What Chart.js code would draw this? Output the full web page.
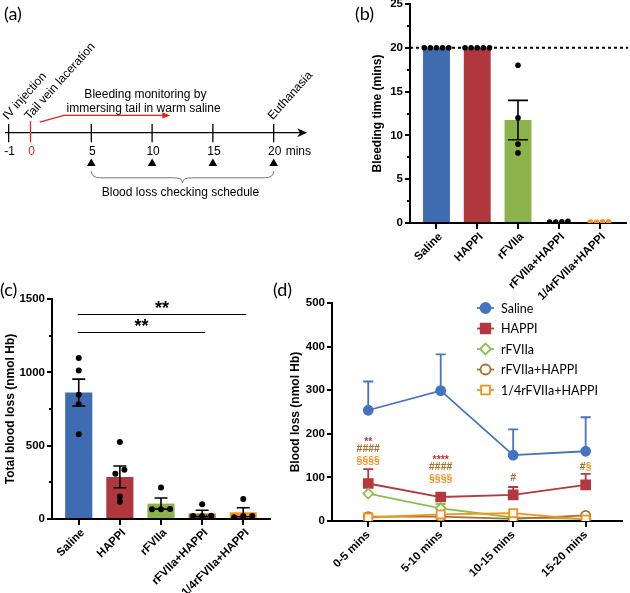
<!DOCTYPE html>
<html lang="en">
<head>
<meta charset="utf-8">
<title>Bleeding time and blood loss</title>
<script src="https://cdn.jsdelivr.net/npm/chart.js@4.4.1/dist/chart.umd.min.js"></script>
<style>
    html, body { margin: 0; padding: 0; background: #fff; }
    #figure { position: relative; width: 630px; height: 593px; overflow: hidden; }
    #figure canvas { position: absolute; }
    .tag { position: absolute; font-family: Lato, "Open Sans", sans-serif; font-size: 18px; line-height: 1; color: #000; }
</style>
</head>
<body>
<div id="figure">
    <canvas id="timeline" width="320" height="250" style="left:0;top:0"></canvas>
    <canvas id="bleedChart" width="310" height="300" style="left:320px;top:0"></canvas>
    <canvas id="lossChart" width="300" height="313" style="left:0;top:280px"></canvas>
    <canvas id="intervalChart" width="350" height="313" style="left:280px;top:280px"></canvas>
    <div class="tag" style="left:4px;top:4px">(a)</div>
    <div class="tag" style="left:355px;top:4px">(b)</div>
    <div class="tag" style="left:0;top:280px">(c)</div>
    <div class="tag" style="left:273px;top:280px">(d)</div>
</div>
<script>
// ========== Data ==========
const groups = ['Saline', 'HAPPI', 'rFVIIa', 'rFVIIa+HAPPI', '1/4rFVIIa+HAPPI'];

// (a) protocol timeline, mins (axis is broken before 0, so -1 sits closer to 0)
const timeTicks = [-1.8, 0, 5, 10, 15, 20];
const timeTickLabels = ['-1', '0', '5', '10', '15', '20'];
const checkTimes = [5, 10, 15, 20];
const timeEvents = [[-1.8, 'IV injection'], [0, 'Tail vein laceration'], [20, 'Euthanasia']];
const monitorText = ['Bleeding monitoring by', 'immersing tail in warm saline'];
const scheduleText = 'Blood loss checking schedule';

// (b) bleeding time, mins
const bleedMean = [20, 20, 11.75, 0.12, 0.12];
const bleedSem = [0, 0, 2.25, 0, 0];
const bleedDots = [
    [20, 20, 20, 20, 20],
    [20, 20, 20, 20, 20],
    [18, 12, 9, 8],
    [0.1, 0.2, 0.1, 0.15],
    [0.1, 0.15, 0.1, 0.15]
];
const bleedCutoff = 20;

// (c) total blood loss, nmol Hb
const lossMean = [862, 287, 105, 38, 46];
const lossSem = [92, 74, 38, 22, 31];
const lossDots = [
    [1097, 1012, 847, 783, 577],
    [525, 335, 308, 153, 118],
    [214, 68, 66, 66],
    [100, 22, 20, 20],
    [137, 20, 20, 12]
];
const lossSig = [[0, 4, 1395, '**'], [0, 3, 1275, '**']];

// (d) blood loss per interval, nmol Hb (mean, upper SEM)
const intervals = ['0-5 mins', '5-10 mins', '10-15 mins', '15-20 mins'];
const salineLoss = [254, 299, 151, 160];
const salineSem = [66, 83, 59, 78];
const happiLoss = [86, 55, 60, 83];
const happiSem = [33, 0, 18, 25];
const fviiaLoss = [63, 29, 8, 5];
const fviiaSem = [0, 10, 0, 0];
const comboLoss = [10, 10, 5, 13];
const comboSem = [0, 0, 0, 0];
const quarterLoss = [8, 15, 18, 3];
const quarterSem = [0, 0, 0, 0];
// significance marks: interval, nmol Hb level, [text, series index]...
const intervalNotes = [
    [0, 188, [['**', 1]]], [0, 165, [['####', 3]]], [0, 138, [['§§§§', 4]]],
    [1, 147, [['****', 1]]], [1, 124, [['####', 3]]], [1, 97, [['§§§§', 4]]],
    [2, 99, [['#', 3]]],
    [3, 124, [['#', 3], ['§', 4]]]
];

// ========== Look ==========
const FONT = '"Liberation Sans", Arial, sans-serif';
const groupColors = ['#3f6cb1', '#b1373e', '#8cb24b', '#a9732d', '#f7931e'];
const lineColors = ['#4473c0', '#b5383f', '#8dbf4f', '#a8702c', '#f7901a'];
const RED_MARK = '#e2231a';

Chart.defaults.font.family = FONT;
Chart.defaults.color = '#000';
Chart.defaults.animation = false;
Chart.defaults.responsive = false;
Chart.defaults.plugins.legend.display = false;
Chart.defaults.plugins.tooltip.enabled = false;

// ========== Helpers ==========
// fan out dots whose values sit close together (GraphPad-like scatter)
function spreadDots(values, near, step) {
    const xs = new Array(values.length).fill(0);
    const idx = values.map((v, i) => i).sort((a, b) => values[a] - values[b]);
    let start = 0;
    while (start < idx.length) {
        let end = start + 1;
        while (end < idx.length && Math.abs(values[idx[end]] - values[idx[end - 1]]) <= near) end++;
        const n = end - start;
        for (let k = 0; k < n; k++) xs[idx[start + k]] = (k - (n - 1) / 2) * step;
        start = end;
    }
    return xs;
}

function blackGrid(len) {
    return { drawOnChartArea: false, color: '#000', lineWidth: 2, tickLength: len, offset: false };
}

function yAxis(max, step, width, title, titlePad) {
    return {
        min: 0, max: max,
        ticks: { stepSize: step, font: { size: 11.5, weight: 'bold' }, padding: 2, callback: v => String(v) },
        grid: blackGrid(5),
        border: { color: '#000', width: 2 },
        title: { display: true, text: title, font: { size: 12, weight: 'bold' }, padding: { top: titlePad, bottom: 0 } },
        afterFit: s => { s.width = width; s.paddingTop = 0; s.paddingBottom = 0; }
    };
}

function xFit(height) {
    return s => { s.height = height; s.paddingLeft = 0; s.paddingRight = 0; };
}

function groupAxis(height) {
    return {
        type: 'linear', min: -0.65, max: 4.65, offset: false,
        afterBuildTicks: s => { s.ticks = groups.map((g, i) => ({ value: i })); },
        ticks: {
            callback: v => groups[v], autoSkip: false, minRotation: 45, maxRotation: 45,
            font: { size: 11.5, weight: 'bold' }, padding: 1, labelOffset: 4
        },
        grid: blackGrid(6),
        border: { color: '#000', width: 2 },
        afterFit: xFit(height)
    };
}

// ========== Plugins ==========
const timelinePlugin = {
    id: 'timeline',
    beforeDatasetsDraw(chart) {
        const { ctx, scales: { x, y } } = chart;
        const px = v => x.getPixelForValue(v);
        const py = v => y.getPixelForValue(v);
        const axisY = py(133);
        ctx.save();
        ctx.font = '12px ' + FONT;
        ctx.lineWidth = 1.3;
        ctx.strokeStyle = '#000';
        ctx.fillStyle = '#000';

        // time axis + arrow head
        const tip = px(22.75);
        ctx.beginPath();
        ctx.moveTo(px(-2.1), axisY);
        ctx.lineTo(tip - 5, axisY);
        ctx.stroke();
        ctx.beginPath();
        ctx.moveTo(tip, axisY);
        ctx.lineTo(tip - 10, axisY - 4.5);
        ctx.lineTo(tip - 7, axisY);
        ctx.lineTo(tip - 10, axisY + 4.5);
        ctx.closePath();
        ctx.fill();

        // ticks and labels
        ctx.textAlign = 'center';
        ctx.textBaseline = 'middle';
        timeTicks.forEach((t, i) => {
            const red = timeTickLabels[i] === '0';
            ctx.strokeStyle = red ? RED_MARK : '#000';
            ctx.fillStyle = ctx.strokeStyle;
            ctx.beginPath();
            ctx.moveTo(px(t), py(red ? 121 : 124));
            ctx.lineTo(px(t), py(143));
            ctx.stroke();
            ctx.fillText(timeTickLabels[i], px(t) + 1, py(153));
        });
        ctx.fillStyle = '#000';
        ctx.textAlign = 'left';
        ctx.fillText('mins', px(20) + 12, py(153));

        // event labels, slanted
        timeEvents.forEach(([t, label]) => {
            ctx.save();
            ctx.translate(px(t) - 1, py(120));
            ctx.rotate(-48 * Math.PI / 180);
            ctx.textBaseline = 'alphabetic';
            ctx.fillText(label, 0, 0);
            ctx.restore();
        });

        // monitoring note + red arrow
        ctx.textAlign = 'center';
        ctx.fillText(monitorText[0], px(9.45), py(93));
        ctx.fillText(monitorText[1], px(9.3), py(108));
        ctx.strokeStyle = RED_MARK;
        ctx.fillStyle = RED_MARK;
        const aTip = px(11.5);
        ctx.beginPath();
        ctx.moveTo(px(0.75), py(122));
        ctx.lineTo(px(2.75), py(115));
        ctx.lineTo(aTip - 4, py(115));
        ctx.stroke();
        ctx.beginPath();
        ctx.moveTo(aTip, py(115));
        ctx.lineTo(aTip - 8, py(115) - 3.2);
        ctx.lineTo(aTip - 8, py(115) + 3.2);
        ctx.closePath();
        ctx.fill();

        // brace under the check points
        const l = px(checkTimes[0]), r = px(checkTimes[checkTimes.length - 1]), m = (l + r) / 2;
        const top = py(173), mid = py(180), dip = py(185);
        ctx.strokeStyle = '#777';
        ctx.lineWidth = 1;
        ctx.beginPath();
        ctx.moveTo(l, top);
        ctx.quadraticCurveTo(l, mid, l + 9, mid);
        ctx.lineTo(m - 9, mid);
        ctx.quadraticCurveTo(m, mid, m, dip);
        ctx.quadraticCurveTo(m, mid, m + 9, mid);
        ctx.lineTo(r - 9, mid);
        ctx.quadraticCurveTo(r, mid, r, top);
        ctx.stroke();
        ctx.fillStyle = '#000';
        ctx.fillText(scheduleText, m - 2, py(196));
        ctx.restore();
    }
};

// mean ± SEM bars, plus optional dashed cut-off line; drawn right after the bars
const semBars = {
    id: 'semBars',
    afterDatasetDraw(chart, args, opts) {
        if (args.meta.type !== 'bar') return;
        const { ctx, chartArea, scales: { x, y } } = chart;
        ctx.save();
        ctx.strokeStyle = '#000';
        ctx.lineWidth = 1.6;
        opts.mean.forEach((m, i) => {
            const s = opts.sem[i];
            if (!s) return;
            const cx = x.getPixelForValue(i);
            const hi = y.getPixelForValue(m + s);
            const lo = y.getPixelForValue(m - s);
            const c = opts.cap / 2;
            ctx.beginPath();
            ctx.moveTo(cx, lo); ctx.lineTo(cx, hi);
            ctx.moveTo(cx - c, hi); ctx.lineTo(cx + c, hi);
            ctx.moveTo(cx - c, lo); ctx.lineTo(cx + c, lo);
            ctx.stroke();
        });
        if (opts.cutoff !== undefined) {
            const cy = y.getPixelForValue(opts.cutoff);
            ctx.lineWidth = 2;
            ctx.setLineDash([3, 3]);
            ctx.beginPath();
            ctx.moveTo(chartArea.left, cy);
            ctx.lineTo(chartArea.right + 2, cy);
            ctx.stroke();
        }
        ctx.restore();
    }
};

const minorTicks = {
    id: 'minorTicks',
    afterDraw(chart, args, opts) {
        const { ctx, scales: { y } } = chart;
        ctx.save();
        ctx.strokeStyle = '#000';
        ctx.lineWidth = 2;
        for (let v = opts.step / 2; v < y.max; v += opts.step) {
            const py = Math.round(y.getPixelForValue(v));
            ctx.beginPath();
            ctx.moveTo(y.right - 3, py);
            ctx.lineTo(y.right, py);
            ctx.stroke();
        }
        ctx.restore();
    }
};

const sigLines = {
    id: 'sigLines',
    afterDatasetsDraw(chart) {
        const { ctx, scales: { x, y } } = chart;
        ctx.save();
        ctx.strokeStyle = '#000';
        ctx.fillStyle = '#000';
        ctx.lineWidth = 1;
        ctx.font = 'bold 18px ' + FONT;
        ctx.textAlign = 'center';
        ctx.textBaseline = 'alphabetic';
        lossSig.forEach(([from, to, level, text]) => {
            const x0 = x.getPixelForValue(from) - 1, x1 = x.getPixelForValue(to) + 3;
            const ly = Math.round(y.getPixelForValue(level)) + 0.5;
            ctx.beginPath();
            ctx.moveTo(x0, ly); ctx.lineTo(x1, ly);
            ctx.stroke();
            ctx.fillText(text, (x0 + x1) / 2, ly - 1);
        });
        ctx.restore();
    }
};

const upperErr = {
    id: 'upperErr',
    beforeDatasetsDraw(chart, args, opts) {
        const { ctx, scales: { x, y } } = chart;
        ctx.save();
        ctx.lineWidth = 1.8;
        chart.data.datasets.forEach((ds, i) => {
            ctx.strokeStyle = ds.borderColor;
            ds.data.forEach((v, k) => {
                const s = opts.sem[i][k];
                if (!s) return;
                const cx = x.getPixelForValue(k);
                const top = y.getPixelForValue(v + s);
                ctx.beginPath();
                ctx.moveTo(cx, y.getPixelForValue(v)); ctx.lineTo(cx, top);
                ctx.moveTo(cx - 5, top); ctx.lineTo(cx + 5, top);
                ctx.stroke();
            });
        });
        ctx.restore();
    }
};

const intervalMarks = {
    id: 'intervalMarks',
    afterDatasetsDraw(chart) {
        const { ctx, scales: { x, y } } = chart;
        ctx.save();
        ctx.font = 'bold 10.5px ' + FONT;
        ctx.textBaseline = 'middle';
        ctx.textAlign = 'left';
        intervalNotes.forEach(([slot, level, parts]) => {
            const widths = parts.map(p => ctx.measureText(p[0]).width);
            let cx = x.getPixelForValue(slot) - widths.reduce((a, b) => a + b, 0) / 2;
            const cy = y.getPixelForValue(level);
            parts.forEach(([text, series], j) => {
                ctx.fillStyle = lineColors[series];
                ctx.fillText(text, cx, text.includes('*') ? cy + 3 : cy);
                cx += widths[j];
            });
        });
        ctx.restore();
    }
};

const sideLegend = {
    id: 'sideLegend',
    afterDraw(chart) {
        const { ctx, chartArea } = chart;
        const x0 = chartArea.left + 145;
        ctx.save();
        ctx.font = '12.5px Lato, "Open Sans", sans-serif';
        ctx.textBaseline = 'middle';
        chart.data.datasets.forEach((ds, i) => {
            const ly = chartArea.top + 5 + i * 20.5;
            ctx.strokeStyle = ds.borderColor;
            ctx.lineWidth = 1.8;
            ctx.beginPath();
            ctx.moveTo(x0, ly); ctx.lineTo(x0 + 17, ly);
            ctx.stroke();
            ctx.fillStyle = ds.pointBackgroundColor;
            Chart.helpers.drawPoint(ctx, {
                pointStyle: ds.pointStyle, radius: ds.pointRadius + 0.5,
                borderWidth: ds.pointBorderWidth, rotation: 0
            }, x0 + 8.5, ly);
            ctx.fillStyle = '#000';
            ctx.fillText(ds.label, x0 + 24, ly + 0.5);
        });
        ctx.restore();
    }
};

// ========== (a) Timeline ==========
new Chart(document.getElementById('timeline'), {
    type: 'scatter',
    data: {
        datasets: [{
            data: checkTimes.map(t => ({ x: t, y: 165 })),
            pointStyle: 'triangle',
            pointRadius: 5,
            backgroundColor: '#000',
            borderWidth: 0
        }]
    },
    options: {
        layout: { padding: { left: 0, right: 4.3, top: 0, bottom: 0 } },
        scales: {
            x: { type: 'linear', display: false, min: -2.1, max: 23.4 },
            y: { display: false, min: 0, max: 250, reverse: true }
        }
    },
    plugins: [timelinePlugin]
});

// ========== (b) & (c) bar + scatter panels ==========
function makeBarPanel(id, cfg) {
    const dotData = [];
    const dotFill = [];
    cfg.dots.forEach((vals, i) => {
        const xs = spreadDots(vals, cfg.near, cfg.step);
        vals.forEach((v, k) => {
            dotData.push({ x: i + xs[k], y: v });
            dotFill.push(cfg.dotColors[i]);
        });
    });

    return new Chart(document.getElementById(id), {
        type: 'bar',
        data: {
            datasets: [
                {
                    type: 'scatter',
                    data: dotData,
                    pointRadius: cfg.dotRadius,
                    pointBackgroundColor: dotFill,
                    pointBorderWidth: 0
                },
                {
                    type: 'bar',
                    data: cfg.mean.map((m, i) => ({ x: i, y: m })),
                    backgroundColor: groupColors,
                    barPercentage: 0.66,
                    categoryPercentage: 1
                }
            ]
        },
        options: {
            layout: { padding: cfg.padding },
            scales: {
                x: groupAxis(cfg.xHeight),
                y: yAxis(cfg.max, cfg.major, cfg.yWidth, cfg.title, cfg.titlePad)
            },
            plugins: {
                semBars: { mean: cfg.mean, sem: cfg.sem, cap: cfg.cap, cutoff: cfg.cutoff },
                minorTicks: { step: cfg.major }
            }
        },
        plugins: [semBars, minorTicks].concat(cfg.extra || [])
    });
}

makeBarPanel('bleedChart', {
    mean: bleedMean, sem: bleedSem, dots: bleedDots, cutoff: bleedCutoff,
    dotColors: ['#000', '#000', '#000', '#000', '#f7931e'],
    near: 0.5, step: 0.15, dotRadius: 2.8, cap: 20,
    max: 25, major: 5, title: 'Bleeding time (mins)', titlePad: 4,
    padding: { left: 46, right: 3, top: 4, bottom: 0 }, yWidth: 44, xHeight: 77
});

makeBarPanel('lossChart', {
    mean: lossMean, sem: lossSem, dots: lossDots,
    dotColors: ['#000', '#000', '#000', '#000', '#000'],
    near: 30, step: 0.22, dotRadius: 3, cap: 13,
    max: 1500, major: 500, title: 'Total blood loss (nmol Hb)', titlePad: 2,
    padding: { left: 1, right: 30, top: 19, bottom: 0 }, yWidth: 51, xHeight: 74,
    extra: [sigLines]
});

// ========== (d) blood loss per interval ==========
const intervalSeries = [
    { values: salineLoss, sem: salineSem, point: 'circle', radius: 4.5, hollow: false },
    { values: happiLoss, sem: happiSem, point: 'rect', radius: 6.3, hollow: false },
    { values: fviiaLoss, sem: fviiaSem, point: 'rectRot', radius: 5, hollow: true },
    { values: comboLoss, sem: comboSem, point: 'circle', radius: 4.5, hollow: true },
    { values: quarterLoss, sem: quarterSem, point: 'rect', radius: 5.7, hollow: true }
];

new Chart(document.getElementById('intervalChart'), {
    type: 'line',
    data: {
        labels: intervals,
        datasets: intervalSeries.map((s, i) => ({
            label: groups[i],
            data: s.values,
            borderColor: lineColors[i],
            borderWidth: 1.8,
            pointStyle: s.point,
            pointRadius: s.radius,
            pointBorderWidth: 1.8,
            pointBorderColor: lineColors[i],
            pointBackgroundColor: s.hollow ? '#fff' : lineColors[i],
            tension: 0,
            order: -i
        }))
    },
    options: {
        layout: { padding: { left: 4, right: 4, top: 23, bottom: 0 } },
        scales: {
            x: {
                type: 'category', offset: true,
                ticks: { autoSkip: false, minRotation: 45, maxRotation: 45, font: { size: 11.5, weight: 'bold' }, padding: 1 },
                grid: blackGrid(6),
                border: { color: '#000', width: 2 },
                afterFit: xFit(72)
            },
            y: yAxis(500, 100, 48, 'Blood loss (nmol Hb)', 4)
        },
        plugins: {
            upperErr: { sem: intervalSeries.map(s => s.sem) }
        }
    },
    plugins: [upperErr, intervalMarks, sideLegend]
});
</script>
</body>
</html>
